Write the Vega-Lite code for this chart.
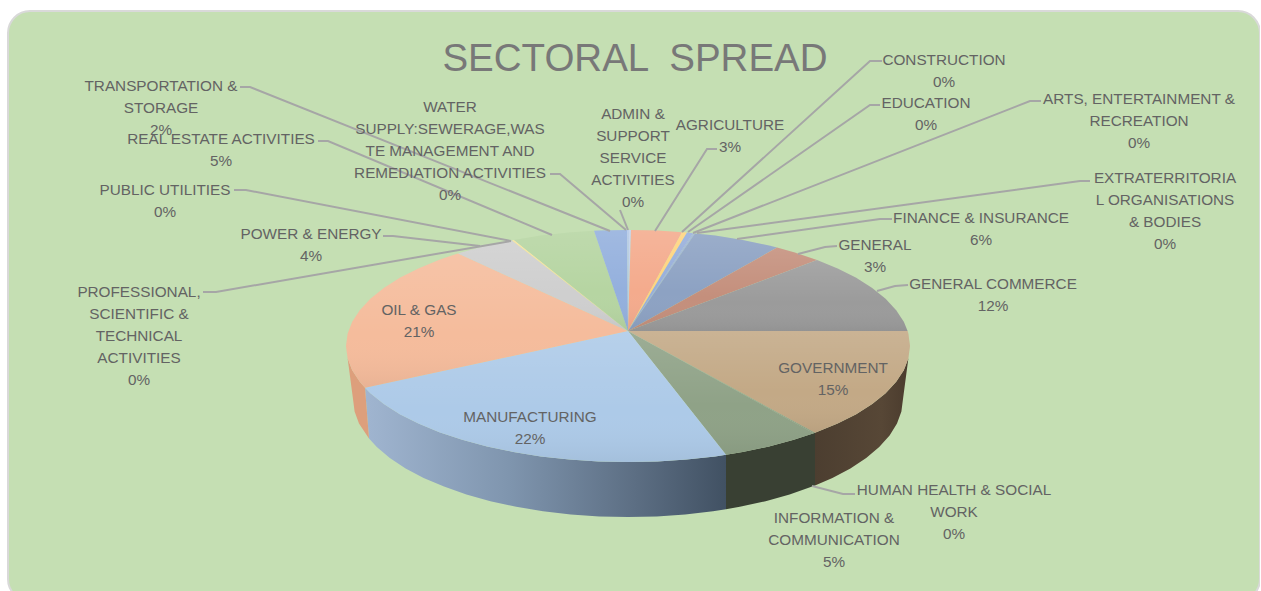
{
"$schema":"https://vega.github.io/schema/vega-lite/v6.json",
"width":1252,"height":590,
"autosize":{"type":"none"},
"padding":{"left":8,"top":11,"right":0,"bottom":0},
"background":"#ffffff",
"view":{"fill":"#c5dfb3","stroke":"#d9d9d9","strokeWidth":2,"cornerRadius":22},
"projection":{"type":"identity","reflectY":true,"scale":2,"translate":[620,320]},
"datasets":{
"walls":[
{"type":"Feature","properties":{"sector":"GOVERNMENT"},"geometry":{"type":"Polygon","coordinates":[[[141,-7.5],[140.2,-13.6],[137.9,-19.6],[134.1,-25.4],[128.8,-31.1],[122.1,-36.5],[114.1,-41.6],[104.8,-46.3],[93.5,-50.9],[93.5,-77.3],[102.2,-73.5],[111.2,-68.7],[119.1,-63.5],[125.6,-58],[130.8,-52.2],[134.5,-46.3],[136.7,-40.2],[137.5,-34],[141,-7.5]]]}},
{"type":"Feature","properties":{"sector":"INFORMATION & COMMUNICATION"},"geometry":{"type":"Polygon","coordinates":[[[93.5,-50.9],[82.9,-54.4],[70.5,-57.7],[57.3,-60.5],[49,-61.9],[49,-89.1],[55.9,-87.9],[68.8,-85.1],[80.8,-81.7],[93.5,-77.3],[93.5,-50.9]]]}},
{"type":"Feature","properties":{"sector":"MANUFACTURING"},"geometry":{"type":"Polygon","coordinates":[[[49,-61.9],[43.6,-62.7],[29.3,-64.2],[14.7,-65.2],[0,-65.5],[-14.7,-65.2],[-29.3,-64.2],[-43.6,-62.7],[-57.3,-60.5],[-70.5,-57.7],[-82.9,-54.4],[-94.3,-50.6],[-104.8,-46.3],[-114.1,-41.6],[-122.1,-36.5],[-128.8,-31.1],[-131.5,-28.4],[-129.5,-53.8],[-125.6,-58],[-119.1,-63.5],[-111.2,-68.7],[-102.2,-73.5],[-92,-77.8],[-80.8,-81.7],[-68.8,-85.1],[-55.9,-87.9],[-42.5,-90.1],[-28.6,-91.7],[-14.4,-92.7],[0,-93],[14.4,-92.7],[28.6,-91.7],[42.5,-90.1],[49,-89.1],[49,-61.9]]]}},
{"type":"Feature","properties":{"sector":"OIL & GAS"},"geometry":{"type":"Polygon","coordinates":[[[-131.5,-28.4],[-134.1,-25.4],[-137.9,-19.6],[-140.2,-13.6],[-141,-7.5],[-137.5,-34],[-136.7,-40.2],[-134.5,-46.3],[-129.5,-53.8],[-131.5,-28.4]]]}}
],
"slices":[
{"type":"Feature","properties":{"sector":"ADMIN & SUPPORT SERVICE ACTIVITIES","share":0},"geometry":{"type":"Polygon","coordinates":[[[0,0],[0.5,50.5],[1.5,50.5],[0,0]]]}},
{"type":"Feature","properties":{"sector":"AGRICULTURE","share":3},"geometry":{"type":"Polygon","coordinates":[[[0,0],[1.5,50.5],[7.4,50.4],[14.7,50.2],[27,49.4],[0,0]]]}},
{"type":"Feature","properties":{"sector":"CONSTRUCTION","share":0},"geometry":{"type":"Polygon","coordinates":[[[0,0],[27,49.4],[29.5,49.2],[0,0]]]}},
{"type":"Feature","properties":{"sector":"EDUCATION","share":0},"geometry":{"type":"Polygon","coordinates":[[[0,0],[29.5,49.2],[32.5,48.9],[0,0]]]}},
{"type":"Feature","properties":{"sector":"ARTS, ENTERTAINMENT & RECREATION","share":0},"geometry":{"type":"Polygon","coordinates":[[[0,0],[32.5,48.9],[33,48.8],[0,0]]]}},
{"type":"Feature","properties":{"sector":"EXTRATERRITORIAL ORGANISATIONS & BODIES","share":0},"geometry":{"type":"Polygon","coordinates":[[[0,0],[33,48.8],[33.5,48.7],[0,0]]]}},
{"type":"Feature","properties":{"sector":"FINANCE & INSURANCE","share":6},"geometry":{"type":"Polygon","coordinates":[[[0,0],[33.5,48.7],[43.6,47.7],[57.3,45.5],[70.5,42.7],[74.5,41.7],[0,0]]]}},
{"type":"Feature","properties":{"sector":"GENERAL","share":3},"geometry":{"type":"Polygon","coordinates":[[[0,0],[74.5,41.7],[82.9,39.4],[94.5,35.5],[0,0]]]}},
{"type":"Feature","properties":{"sector":"GENERAL COMMERCE","share":12},"geometry":{"type":"Polygon","coordinates":[[[0,0],[94.5,35.5],[104.8,31.3],[114.1,26.6],[122.1,21.5],[128.8,16.1],[134.1,10.4],[137.9,4.6],[139.8,0],[0,0]]]}},
{"type":"Feature","properties":{"sector":"GOVERNMENT","share":15},"geometry":{"type":"Polygon","coordinates":[[[0,0],[139.8,0],[140.2,-1.4],[141,-7.5],[140.2,-13.6],[137.9,-19.6],[134.1,-25.4],[128.8,-31.1],[122.1,-36.5],[114.1,-41.6],[104.8,-46.3],[93.5,-50.9],[0,0]]]}},
{"type":"Feature","properties":{"sector":"HUMAN HEALTH & SOCIAL WORK","share":0},"geometry":{"type":"Polygon","coordinates":[[[0,0],[93.5,-50.9],[93,-51.1],[0,0]]]}},
{"type":"Feature","properties":{"sector":"INFORMATION & COMMUNICATION","share":5},"geometry":{"type":"Polygon","coordinates":[[[0,0],[93,-51.1],[82.9,-54.4],[70.5,-57.7],[57.3,-60.5],[49,-61.9],[0,0]]]}},
{"type":"Feature","properties":{"sector":"MANUFACTURING","share":22},"geometry":{"type":"Polygon","coordinates":[[[0,0],[49,-61.9],[43.6,-62.7],[29.3,-64.2],[14.7,-65.2],[0,-65.5],[-14.7,-65.2],[-29.3,-64.2],[-43.6,-62.7],[-57.3,-60.5],[-70.5,-57.7],[-82.9,-54.4],[-94.3,-50.6],[-104.8,-46.3],[-114.1,-41.6],[-122.1,-36.5],[-128.8,-31.1],[-131.5,-28.4],[0,0]]]}},
{"type":"Feature","properties":{"sector":"OIL & GAS","share":21},"geometry":{"type":"Polygon","coordinates":[[[0,0],[-131.5,-28.4],[-134.1,-25.4],[-137.9,-19.6],[-140.2,-13.6],[-141,-7.5],[-140.2,-1.4],[-137.9,4.6],[-134.1,10.4],[-128.8,16.1],[-122.1,21.5],[-114.1,26.6],[-104.8,31.3],[-94.3,35.6],[-85,38.8],[0,0]]]}},
{"type":"Feature","properties":{"sector":"POWER & ENERGY","share":4},"geometry":{"type":"Polygon","coordinates":[[[0,0],[-85,38.8],[-82.9,39.4],[-70.5,42.7],[-58,45.3],[0,0]]]}},
{"type":"Feature","properties":{"sector":"PROFESSIONAL, SCIENTIFIC & TECHNICAL ACTIVITIES","share":0},"geometry":{"type":"Polygon","coordinates":[[[0,0],[-58,45.3],[-57.7,45.4],[0,0]]]}},
{"type":"Feature","properties":{"sector":"PUBLIC UTILITIES","share":0},"geometry":{"type":"Polygon","coordinates":[[[0,0],[-57.7,45.4],[-57,45.5],[0,0]]]}},
{"type":"Feature","properties":{"sector":"REAL ESTATE ACTIVITIES","share":5},"geometry":{"type":"Polygon","coordinates":[[[0,0],[-57,45.5],[-43.6,47.7],[-29.3,49.2],[-17,50.1],[0,0]]]}},
{"type":"Feature","properties":{"sector":"TRANSPORTATION & STORAGE","share":2},"geometry":{"type":"Polygon","coordinates":[[[0,0],[-17,50.1],[-14.7,50.2],[-0.5,50.5],[0,0]]]}},
{"type":"Feature","properties":{"sector":"WATER SUPPLY:SEWERAGE,WASTE MANAGEMENT AND REMEDIATION ACTIVITIES","share":0},"geometry":{"type":"Polygon","coordinates":[[[0,0],[-0.5,50.5],[0.5,50.5],[0,0]]]}}
],
"leaders":[
{"type":"Feature","properties":{"sector":"TRANSPORTATION & STORAGE"},"geometry":{"type":"LineString","coordinates":[[-194,122],[-189,122],[-9,50]]}},
{"type":"Feature","properties":{"sector":"REAL ESTATE ACTIVITIES"},"geometry":{"type":"LineString","coordinates":[[-155,95],[-150,95],[-38,48]]}},
{"type":"Feature","properties":{"sector":"PUBLIC UTILITIES"},"geometry":{"type":"LineString","coordinates":[[-197,70.5],[-191,70.5],[-58.5,45]]}},
{"type":"Feature","properties":{"sector":"POWER & ENERGY"},"geometry":{"type":"LineString","coordinates":[[-122.5,47.5],[-117.5,47.5],[-74,42.5]]}},
{"type":"Feature","properties":{"sector":"PROFESSIONAL, SCIENTIFIC & TECHNICAL ACTIVITIES"},"geometry":{"type":"LineString","coordinates":[[-212.5,19.5],[-206,19.5],[-58.5,45]]}},
{"type":"Feature","properties":{"sector":"WATER SUPPLY"},"geometry":{"type":"LineString","coordinates":[[-39,78.5],[-34,78.5],[-1,50.5]]}},
{"type":"Feature","properties":{"sector":"ADMIN & SUPPORT SERVICE ACTIVITIES"},"geometry":{"type":"LineString","coordinates":[[-4,60.5],[0,50.5]]}},
{"type":"Feature","properties":{"sector":"AGRICULTURE"},"geometry":{"type":"LineString","coordinates":[[44.5,91],[39.5,91],[13.5,50]]}},
{"type":"Feature","properties":{"sector":"CONSTRUCTION"},"geometry":{"type":"LineString","coordinates":[[127,135],[121,135],[27,49.5]]}},
{"type":"Feature","properties":{"sector":"EDUCATION"},"geometry":{"type":"LineString","coordinates":[[126,113],[121,113],[30,49.5]]}},
{"type":"Feature","properties":{"sector":"ARTS, ENTERTAINMENT & RECREATION"},"geometry":{"type":"LineString","coordinates":[[206.5,115],[201,115],[32.5,49]]}},
{"type":"Feature","properties":{"sector":"EXTRATERRITORIAL ORGANISATIONS & BODIES"},"geometry":{"type":"LineString","coordinates":[[231,75],[226,75],[34.5,49]]}},
{"type":"Feature","properties":{"sector":"FINANCE & INSURANCE"},"geometry":{"type":"LineString","coordinates":[[132,56],[126,56],[54.5,46]]}},
{"type":"Feature","properties":{"sector":"GENERAL"},"geometry":{"type":"LineString","coordinates":[[104.5,42.5],[98.5,42],[85,38.5]]}},
{"type":"Feature","properties":{"sector":"GENERAL COMMERCE"},"geometry":{"type":"LineString","coordinates":[[140,23],[133.5,22.5],[124.5,20]]}},
{"type":"Feature","properties":{"sector":"HUMAN HEALTH & SOCIAL WORK"},"geometry":{"type":"LineString","coordinates":[[113.5,-81.5],[107.5,-81.5],[92,-77.5]]}}
],
"labels":[
{"label":"ADMIN &\nSUPPORT\nSERVICE\nACTIVITIES\n0%","lon":2.5,"lat":106},
{"label":"AGRICULTURE\n3%","lon":51,"lat":100.5},
{"label":"CONSTRUCTION\n0%","lon":158,"lat":133},
{"label":"EDUCATION\n0%","lon":149,"lat":111.5},
{"label":"ARTS, ENTERTAINMENT &\nRECREATION\n0%","lon":255.5,"lat":113.5},
{"label":"EXTRATERRITORIA\nL ORGANISATIONS\n& BODIES\n0%","lon":268.5,"lat":74},
{"label":"FINANCE & INSURANCE\n6%","lon":176.5,"lat":54},
{"label":"GENERAL\n3%","lon":123.5,"lat":40.5},
{"label":"GENERAL COMMERCE\n12%","lon":182.5,"lat":21},
{"label":"GOVERNMENT\n15%","lon":102.5,"lat":-21},
{"label":"HUMAN HEALTH & SOCIAL\nWORK\n0%","lon":163,"lat":-82},
{"label":"INFORMATION &\nCOMMUNICATION\n5%","lon":103,"lat":-96},
{"label":"MANUFACTURING\n22%","lon":-49,"lat":-45.5},
{"label":"OIL & GAS\n21%","lon":-104.5,"lat":8},
{"label":"POWER & ENERGY\n4%","lon":-158.5,"lat":46},
{"label":"PROFESSIONAL,\nSCIENTIFIC &\nTECHNICAL\nACTIVITIES\n0%","lon":-244.5,"lat":17},
{"label":"PUBLIC UTILITIES\n0%","lon":-231.5,"lat":68},
{"label":"REAL ESTATE ACTIVITIES\n5%","lon":-203.5,"lat":93.5},
{"label":"TRANSPORTATION &\nSTORAGE\n2%","lon":-233.5,"lat":120},
{"label":"WATER\nSUPPLY:SEWERAGE,WAS\nTE MANAGEMENT AND\nREMEDIATION ACTIVITIES\n0%","lon":-89,"lat":109.5}
]
},
"layer":[
{"data":{"name":"walls"},
 "transform":[{"filter":"datum.properties.sector === 'GOVERNMENT'"}],
 "mark":{"type":"geoshape","strokeWidth":0,"fill":{"gradient":"linear","x1":0,"y1":0,"x2":1,"y2":0,"stops":[{"offset":0,"color":"#4c3e30"},{"offset":0.7,"color":"#574736"},{"offset":1,"color":"#4a3b2d"}]}},"encoding":{}},
{"data":{"name":"walls"},
 "transform":[{"filter":"datum.properties.sector === 'INFORMATION & COMMUNICATION'"}],
 "mark":{"type":"geoshape","strokeWidth":0,"fill":"#394033"},"encoding":{}},
{"data":{"name":"walls"},
 "transform":[{"filter":"datum.properties.sector === 'MANUFACTURING'"}],
 "mark":{"type":"geoshape","strokeWidth":0,"fill":{"gradient":"linear","x1":0,"y1":0,"x2":1,"y2":0,"stops":[{"offset":0,"color":"#a0b5d0"},{"offset":0.4,"color":"#7f95ae"},{"offset":0.75,"color":"#5c6e83"},{"offset":1,"color":"#415163"}]}},"encoding":{}},
{"data":{"name":"walls"},
 "transform":[{"filter":"datum.properties.sector === 'OIL & GAS'"}],
 "mark":{"type":"geoshape","strokeWidth":0,"fill":"#dd9f7c"},"encoding":{}},
{"data":{"name":"slices"},
 "mark":{"type":"geoshape","strokeWidth":0},
 "encoding":{"fill":{"field":"properties.sector","type":"nominal","legend":null,
  "scale":{"domain":["ADMIN & SUPPORT SERVICE ACTIVITIES","AGRICULTURE","CONSTRUCTION","EDUCATION","ARTS, ENTERTAINMENT & RECREATION","EXTRATERRITORIAL ORGANISATIONS & BODIES","FINANCE & INSURANCE","GENERAL","GENERAL COMMERCE","GOVERNMENT","HUMAN HEALTH & SOCIAL WORK","INFORMATION & COMMUNICATION","MANUFACTURING","OIL & GAS","POWER & ENERGY","PROFESSIONAL, SCIENTIFIC & TECHNICAL ACTIVITIES","PUBLIC UTILITIES","REAL ESTATE ACTIVITIES","TRANSPORTATION & STORAGE","WATER SUPPLY:SEWERAGE,WASTE MANAGEMENT AND REMEDIATION ACTIVITIES"],
  "range":["#c0d1eb","#f4ab8d","#ffd47e","#97aedb","#97aedb","#97aedb","#8da2c3","#c48f7c","#9b9b9b","#c3a986","#8f9e86","#8fa287","#adcae8","#f5bc9c","#cfcfcf","#ffe39a","#ffe39a","#b6d5a2","#94b0dd","#b2c8e8"]}}}},
{"data":{"name":"slices"},
 "mark":{"type":"geoshape","strokeWidth":0,"fill":{"gradient":"linear","x1":0,"y1":0,"x2":0,"y2":1,"stops":[{"offset":0,"color":"rgba(255,255,255,0.12)"},{"offset":0.6,"color":"rgba(255,255,255,0)"},{"offset":1,"color":"rgba(0,0,0,0.05)"}]}},
 "encoding":{}},
{"data":{"name":"leaders"},
 "mark":{"type":"geoshape","filled":false,"stroke":"#a6a6a6","strokeWidth":2},"encoding":{}},
{"data":{"name":"labels"},
 "mark":{"type":"text","font":"Liberation Sans","fontSize":15.3,"fill":"#636363","align":"center","baseline":"alphabetic","lineBreak":"\n","lineHeight":22},
 "encoding":{"longitude":{"field":"lon","type":"quantitative"},"latitude":{"field":"lat","type":"quantitative"},"text":{"field":"label","type":"nominal"}}},
{"data":{"values":[{"heading":"SECTORAL \u00a0SPREAD","lon":3.5,"lat":130}]},
 "mark":{"type":"text","font":"Liberation Sans","fontSize":38.5,"fill":"#787878","align":"center","baseline":"alphabetic"},
 "encoding":{"longitude":{"field":"lon","type":"quantitative"},"latitude":{"field":"lat","type":"quantitative"},"text":{"field":"heading","type":"nominal"}}}
]
}
